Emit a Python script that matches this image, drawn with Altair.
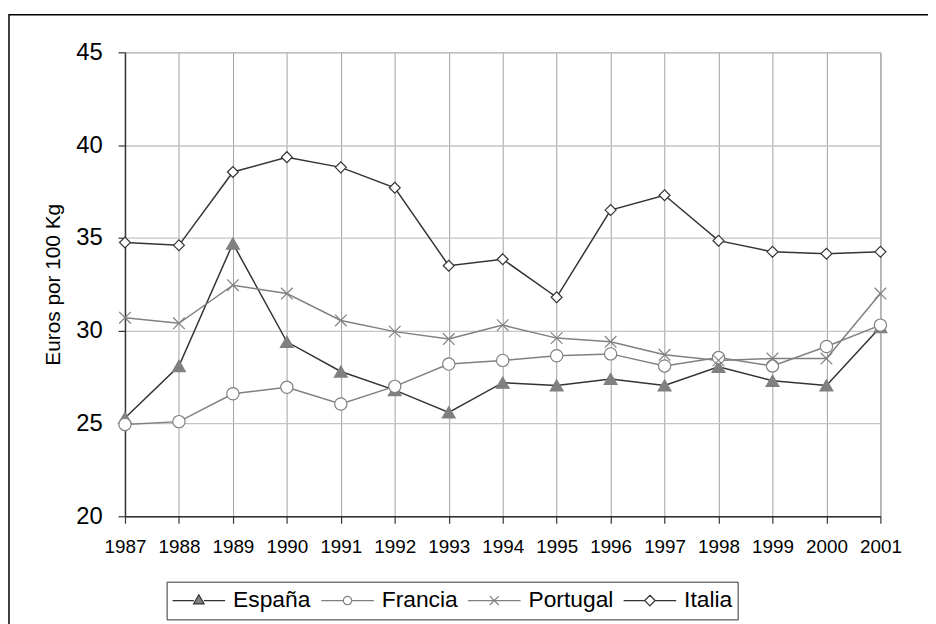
import altair as alt
import pandas as pd

years = list(range(1987, 2002))
series = ["España", "Francia", "Portugal", "Italia"]
espana = [25.3, 28.1, 34.7, 29.4, 27.8, 26.8, 25.6, 27.2, 27.05, 27.4, 27.05, 28.05, 27.3, 27.05, 30.2]
francia = [24.95, 25.1, 26.6, 26.95, 26.05, 27.0, 28.2, 28.4, 28.65, 28.75, 28.1, 28.55, 28.1, 29.15, 30.3]
portugal = [30.7, 30.4, 32.45, 32.0, 30.55, 29.95, 29.55, 30.3, 29.6, 29.4, 28.7, 28.4, 28.5, 28.5, 32.0]
italia = [34.75, 34.6, 38.55, 39.35, 38.8, 37.7, 33.5, 33.85, 31.8, 36.5, 37.3, 34.85, 34.25, 34.15, 34.25]

values = {"España": espana, "Francia": francia, "Portugal": portugal, "Italia": italia}
rows = []
for s in series:
    for y, v in zip(years, values[s]):
        rows.append({"year": y, "value": v, "serie": s})
df = pd.DataFrame(rows)

line_colors = ["#333333", "#808080", "#808080", "#333333"]
marker_shapes = ["triangle-up", "circle", "M-1,-1L1,1M-1,1L1,-1", "diamond"]
marker_fills = ["#808080", "white", "transparent", "white"]
marker_strokes = ["#808080", "#808080", "#808080", "#333333"]
marker_sizes = [169, 121, 144, 196]

# legend symbols: line segment + marker (unit = 26.5px)
legend_paths = [
    "M-1,0H-0.19M0.19,0H1M0,-0.22L0.2,0.13L-0.2,0.13Z",
    "M-1,0H-0.16M0.16,0H1M0.16,0A0.16,0.16 0 1,1 -0.16,0A0.16,0.16 0 1,1 0.16,0Z",
    "M-1,0H1M-0.17,-0.17L0.17,0.17M-0.17,0.17L0.17,-0.17",
    "M-1,0H-0.2M0.2,0H1M0,-0.2L0.2,0L0,0.2L-0.2,0Z",
]
legend_fills = ["#808080", "white", "white", "white"]
legend_strokes = ["#333333", "#808080", "#808080", "#333333"]

FONT = "Liberation Sans"

x_enc = alt.X("year:Q", scale=alt.Scale(domain=[1987, 2001], nice=False, zero=False),
              axis=alt.Axis(values=years, format="d", title=None, labelFontSize=19,
                            labelPadding=15, tickSize=7, gridColor="#a0a0a0",
                            labelFlush=False, labelOverlap=False))
y_enc = alt.Y("value:Q", scale=alt.Scale(domain=[20, 45], nice=False, zero=False),
              axis=alt.Axis(values=[20, 25, 30, 35, 40, 45], title="Euros por 100 Kg",
                            labelFontSize=24, labelPadding=16, tickSize=7,
                            gridColor="#c4c4c4", gridWidth=1.3,
                            titleFontSize=21, titleFontWeight="normal", titlePadding=12))

base = alt.Chart(df)

frame = alt.Chart(pd.DataFrame({"k": [0]})).mark_rect(
    fill=None, stroke="black", strokeWidth=1.5
).encode(x=alt.value(-117), x2=alt.value(840), y=alt.value(-38), y2=alt.value(640))

lines = base.mark_line(strokeWidth=1.5).encode(
    x=x_enc, y=y_enc,
    stroke=alt.Stroke("serie:N", scale=alt.Scale(domain=series, range=line_colors), legend=None),
    detail="serie:N",
)

points = base.mark_point(strokeWidth=1.2, opacity=1, fillOpacity=1).encode(
    x="year:Q", y="value:Q",
    shape=alt.Shape("serie:N", scale=alt.Scale(domain=series, range=marker_shapes), legend=None),
    fill=alt.Fill("serie:N", scale=alt.Scale(domain=series, range=marker_fills), legend=None),
    stroke=alt.Stroke("serie:N", scale=alt.Scale(domain=series, range=marker_strokes), legend=None),
    size=alt.Size("serie:N", scale=alt.Scale(domain=series, range=marker_sizes), legend=None),
)

leg = alt.Legend(title=None, orient="none", legendX=42, legendY=534, direction="horizontal",
                 labelFontSize=23, labelFont=FONT, labelColor="black", symbolSize=2809,
                 clipHeight=28, labelOffset=7,
                 symbolStrokeWidth=1.2, strokeColor="#333333", fillColor="white",
                 padding=5, columnPadding=9, symbolOpacity=1)

legend_layer = base.mark_point(opacity=0, size=2809).encode(
    x="year:Q", y="value:Q",
    shape=alt.Shape("serie:N", scale=alt.Scale(domain=series, range=legend_paths), legend=leg),
    fill=alt.Fill("serie:N", scale=alt.Scale(domain=series, range=legend_fills), legend=leg),
    stroke=alt.Stroke("serie:N", scale=alt.Scale(domain=series, range=legend_strokes), legend=leg),
)

chart = alt.layer(frame, lines, points, legend_layer).resolve_scale(
    stroke="independent", fill="independent", shape="independent", size="independent"
).properties(
    width=762, height=468,
    autosize=alt.AutoSizeParams(type="none"),
    padding={"left": 118, "top": 42, "right": 48, "bottom": 110},
    background="white",
).configure_view(stroke="#a0a0a0", strokeWidth=1).configure_axis(
    labelFont=FONT, titleFont=FONT, labelColor="black", titleColor="black",
    domainColor="#333333", domainWidth=1.5, tickColor="#333333", tickWidth=1.2,
)

chart.save("out.html", embed_options={"renderer": "svg", "actions": False})
